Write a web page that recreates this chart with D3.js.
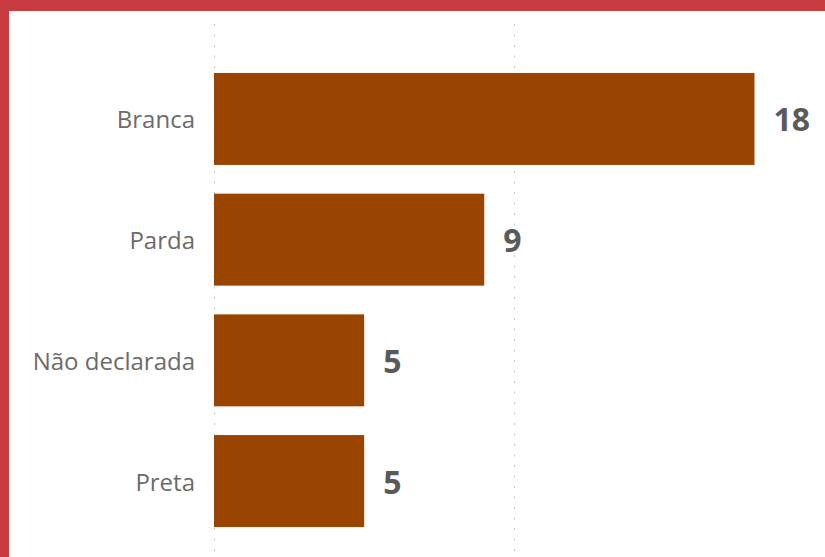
<!DOCTYPE html>
<html>
<head>
<meta charset="utf-8">
<script src="https://cdn.jsdelivr.net/npm/d3@7"></script>
<style>
  html, body { margin: 0; padding: 0; background: #ffffff; }
  svg { display: block; }
</style>
</head>
<body>
<script>
// Data
const categories = ["Branca", "Parda", "Não declarada", "Preta"];
const counts = [18, 9, 5, 5];
const gridValues = [0, 10];

const W = 825, H = 557;
const svg = d3.select("body").append("svg").attr("width", W).attr("height", H);

// Frame: red band along the top and left edges
svg.append("rect").attr("x", 0).attr("y", 0).attr("width", W).attr("height", H).attr("fill", "#ffffff");
svg.append("rect").attr("x", 0).attr("y", 0).attr("width", W).attr("height", 11).attr("fill", "#c83c41");
svg.append("rect").attr("x", 0).attr("y", 0).attr("width", 9).attr("height", H).attr("fill", "#c83c41");

const x = d3.scaleLinear().domain([0, 18]).range([214, 754.5]);
const y = d3.scaleBand().domain(categories).range([58.6, 541.4]).paddingInner(0.238).paddingOuter(0.119);

// Dotted vertical gridlines
svg.append("g").selectAll("line").data(gridValues).join("line")
  .attr("x1", d => Math.round(x(d)) + 0.5).attr("x2", d => Math.round(x(d)) + 0.5)
  .attr("y1", 24).attr("y2", H)
  .attr("stroke", "#c8c8c8").attr("stroke-width", 1)
  .attr("stroke-dasharray", "2,8.5");

// Bars
svg.append("g").selectAll("rect").data(categories).join("rect")
  .attr("x", x(0))
  .attr("y", d => y(d))
  .attr("width", (d, i) => x(counts[i]) - x(0))
  .attr("height", y.bandwidth())
  .attr("fill", "#994400");

// Category labels
svg.append("g").selectAll("text").data(categories).join("text")
  .attr("x", x(0) - 19)
  .attr("y", d => y(d) + y.bandwidth() / 2)
  .attr("text-anchor", "end")
  .attr("dominant-baseline", "central")
  .attr("font-family", "'Open Sans', sans-serif")
  .attr("font-size", 24)
  .attr("fill", "#6b6b6b")
  .text(d => d);

// Value labels
svg.append("g").selectAll("text").data(categories).join("text")
  .attr("x", (d, i) => x(counts[i]) + 19)
  .attr("y", d => y(d) + y.bandwidth() / 2)
  .attr("text-anchor", "start")
  .attr("dominant-baseline", "central")
  .attr("font-family", "'Open Sans', sans-serif")
  .attr("font-weight", "bold")
  .attr("font-size", 32)
  .attr("fill", "#5a5a5a")
  .text((d, i) => counts[i]);
</script>
</body>
</html>
